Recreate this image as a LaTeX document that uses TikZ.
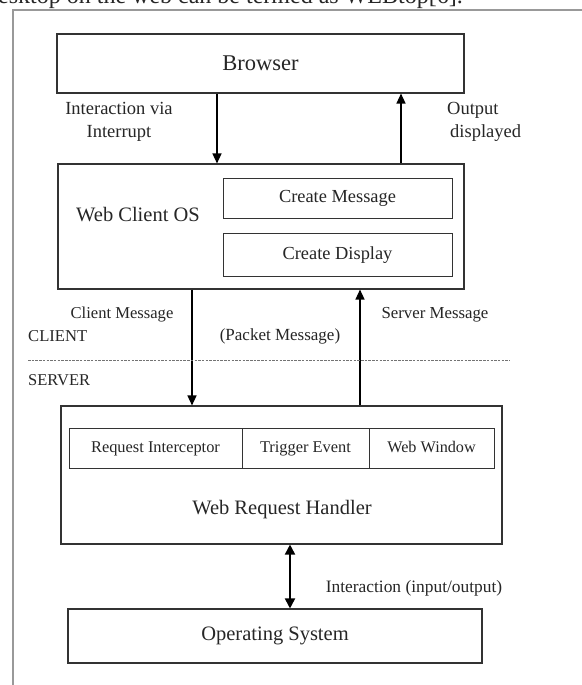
\documentclass[tikz,border=0pt]{standalone}
\usepackage{fontspec}
\setmainfont{Liberation Serif}
\usetikzlibrary{arrows.meta}
\tikzset{
  box/.style={draw=black!80, line width=1.1pt, fill=white, inner sep=0pt, text=black!85},
  cell/.style={draw=black!80, line width=1pt, inner sep=0pt, text=black!85, text height=11.5pt, text depth=3.5pt},
  lbl/.style={inner sep=0pt, text=black!85},
  arr/.style={draw=black, line width=1.4pt, -{Triangle[length=10pt,width=9pt]}},
  darr/.style={draw=black, line width=1.8pt, {Triangle[length=10pt,width=10pt]}-{Triangle[length=10pt,width=10pt]}},
}
\newcommand{\fs}[1]{\fontsize{#1}{#1}\selectfont}
\begin{document}
\begin{tikzpicture}[x=1pt,y=-1pt]
\useasboundingbox (0,0) rectangle (581,685);
\fill[white] (0,0) rectangle (581,685);
% cut text at top
\node[lbl, anchor=base west] (toptext) at (-2,4) {\fs{24}esktop on the web can be termed as WEBtop[6].};
% frame
\draw[black!40, line width=1.6pt] (13,700) -- (13,10) -- (600,10);

% boxes
\node[box, minimum width=407pt, minimum height=59pt] (browser) at (260.5,63.5) {\fs{22.5}Browser};
\node[box, minimum width=406pt, minimum height=125pt] (wc) at (261,226.5) {};
\node[lbl] (wctext) at (138,215) {\fs{20.5}Web Client OS};
\node[cell, minimum width=229pt, minimum height=40pt, text height=13pt, text depth=4pt] (cmsg) at (337.5,198) {\fs{18.4}Create Message};
\node[cell, minimum width=229pt, minimum height=43pt, text height=13pt, text depth=4pt] (cdisp) at (337.5,254.5) {\fs{18.4}Create Display};

\node[box, minimum width=441pt, minimum height=138pt] (wrh) at (281.5,475) {};
\node[lbl] (wrhtext) at (282,510) {\fs{20.5}Web Request Handler};
\node[cell, minimum width=173pt, minimum height=40pt] (ri) at (155.5,448) {\fs{16.4}Request Interceptor};
\node[cell, minimum width=127pt, minimum height=40pt] (te) at (305.5,448) {\fs{16.4}Trigger Event};
\node[cell, minimum width=125pt, minimum height=40pt] (ww) at (431.5,448) {\fs{16.2}Web Window};

\node[box, minimum width=414pt, minimum height=54pt] (os) at (275,636) {\fs{20.5}Operating System};

% arrow columns
\coordinate (c1) at (217,0);
\coordinate (c2) at (401,0);
\coordinate (c3) at (192,0);
\coordinate (c4) at (360,0);
\coordinate (c5) at (290,0);

\draw[arr] (browser.south -| c1) -- (wc.north -| c1);
\draw[arr] (wc.north -| c2) -- (browser.south -| c2);
\draw[arr] (wc.south -| c3) -- (wrh.north -| c3);
\draw[arr] (wrh.north -| c4) -- (wc.south -| c4);
\draw[darr] (wrh.south -| c5) -- (os.north -| c5);

% labels
\node[lbl, align=center, font=\fontsize{18.5}{23}\selectfont] (l1) at (119,122) {Interaction via\\Interrupt};
\node[lbl, align=left, anchor=west, font=\fontsize{18.5}{23}\selectfont] (l2) at (447,122) {Output\\\hspace*{3pt}displayed};
\node[lbl] (l3) at (122,315) {\fs{16.6}Client Message};
\node[lbl] (l4) at (435,315) {\fs{16.8}Server Message};
\node[lbl, anchor=west] (l5) at (28,336) {\fs{16.6}CLIENT};
\node[lbl] (l6) at (280,336) {\fs{17}(Packet Message)};
\node[lbl, anchor=west] (l7) at (28,380) {\fs{16.5}SERVER};
\node[lbl] (l8) at (414,588) {\fs{17.4}Interaction (input/output)};

% separator
\coordinate (s1) at (28,360);
\coordinate (s2) at (510,360);
\draw[black!55, line width=0.9pt, dash pattern=on 2.5pt off 1.2pt] (s1) -- (s2);
\end{tikzpicture}
\end{document}
